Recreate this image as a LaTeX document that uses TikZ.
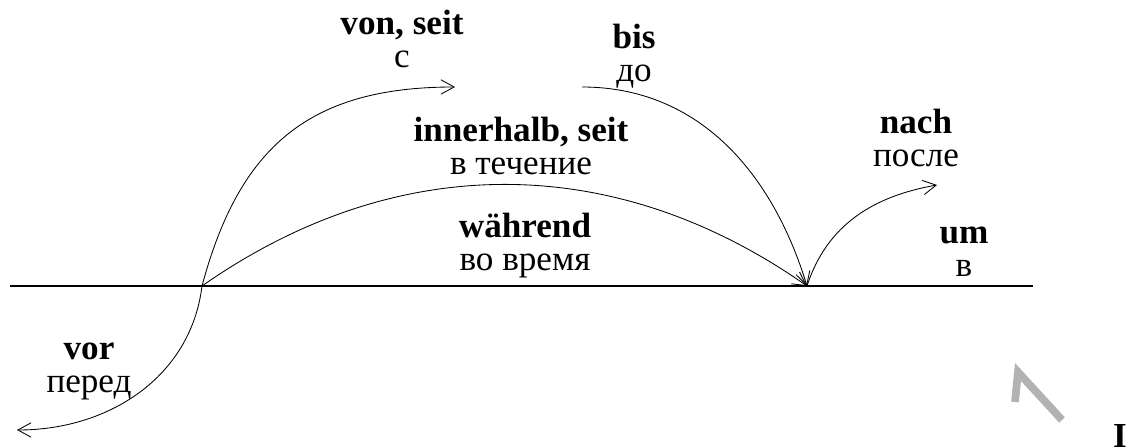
\documentclass[tikz,border=0pt]{standalone}
\usepackage{fontspec}
\setmainfont{Liberation Serif}
\usetikzlibrary{arrows.meta}
\colorlet{mcol}{black!30!white}
\tikzstyle{tline}=[line width=1.4pt]
\tikzstyle{arc}=[line width=0.6pt,-{Straight Barb[length=3.3mm,width=3.6mm]}]
\tikzstyle{lab}=[align=center,anchor=base,inner sep=0pt,font=\fontsize{25}{23.5}\selectfont]
\tikzstyle{greymark}=[line width=5.5pt,mcol,line join=miter]

\begin{document}
\begin{tikzpicture}
		\useasboundingbox (0,0) rectangle (28.2,11.2);
		\coordinate (a) at (5.05, 4.05);
		\coordinate (b) at (20.175, 4.05);
		\coordinate (l) at (0.25, 4.05);
		\coordinate (r) at (25.825, 4.05);
		\coordinate (c) at (11.375, 9.025);
		\coordinate (d) at (14.55, 9.025);
		\coordinate (e) at (0.425, 0.45);
		\coordinate (f) at (23.425, 6.575);
		\draw[tline] (l) -- (r);
		\draw[arc] (a) to[out=75,in=180,looseness=1.15] (c);
		\draw[arc] (d) to[out=0,in=107] (b);
		\draw[arc] (a) to[out=35,in=145] (b);
		\draw[arc] (a) to[out=263,in=0] (e);
		\draw[arc] (b) to[out=72,in=190] (f);
		% base anchor sits on the second line
		\node[lab] (von) at (10.05, 9.5) {\textbf{von, seit}\\с};
		\node[lab] (bis) at (15.85, 9.15) {\textbf{bis}\\до};
		\node[lab] (inn) at (13.025, 6.825) {\textbf{innerhalb, seit}\\в течение};
		\node[lab] (wae) at (13.125, 4.425) {\textbf{während}\\во время};
		\node[lab] (nach) at (22.9, 7.025) {\textbf{nach}\\после};
		\node[lab] (um) at (24.1, 4.275) {\textbf{um}\\в};
		\node[lab] (vor) at (2.225, 1.375) {\textbf{vor}\\перед};
		\node[lab] (one) at (28.0, 0.025) {\textbf{I}};
		\draw[greymark] (25.375, 1.15) -- (25.45, 1.9) -- (26.55, 0.7);
	\end{tikzpicture}
\end{document}
